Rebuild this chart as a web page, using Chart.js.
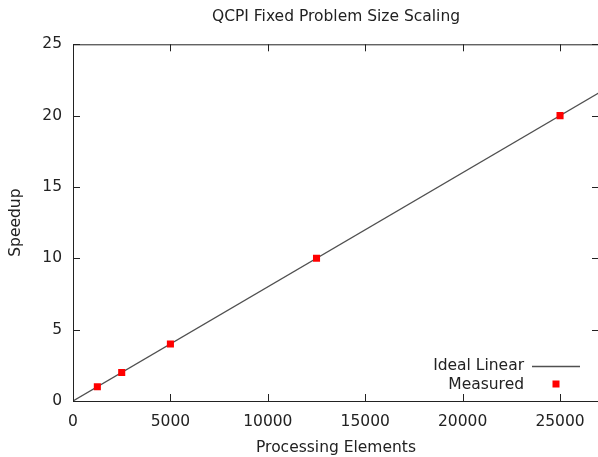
<!DOCTYPE html>
<html lang="en">
<head>
    <meta charset="UTF-8">
    <title>QCPI Fixed Problem Size Scaling</title>
    <script src="https://cdn.jsdelivr.net/npm/chart.js"></script>
    <style>
        body { margin: 0; background: white; overflow: hidden; }
        .wrap { width: 598px; height: 457px; overflow: hidden; }
    </style>
</head>
<body>
    <div class="wrap">
        <canvas id="scalingChart" width="604" height="457"></canvas>
    </div>

    <script>
        // measured speedups per processing element count
        const measuredPE = [1250, 2500, 5000, 12500, 25000];
        const measuredSpeedup = [1, 2, 4, 10, 20];

        // ideal linear reference, end points
        const idealPE = [0, 27000];
        const idealSpeedup = [0, 21.6];

        const xTicks = [0, 5000, 10000, 15000, 20000, 25000];
        const yTicks = [0, 5, 10, 15, 20, 25];

        const textColor = "#222";
        const frameColor = "#222";
        const fontSize = 15.5;

        Chart.defaults.font.family = "'DejaVu Sans', sans-serif";
        Chart.defaults.font.size = fontSize;
        Chart.defaults.color = textColor;

        // frame on all four sides with inward tics, gnuplot style
        const frameTics = {
            id: "frameTics",
            afterDatasetsDraw(chart) {
                const { ctx, chartArea: a, scales } = chart;
                const len = 7;
                ctx.save();
                ctx.strokeStyle = frameColor;
                ctx.lineWidth = 1;
                ctx.strokeRect(a.left + 0.5, a.top + 0.5, a.right - a.left, a.bottom - a.top);
                ctx.beginPath();
                xTicks.forEach(v => {
                    const x = Math.round(scales.x.getPixelForValue(v)) + 0.5;
                    ctx.moveTo(x, a.bottom); ctx.lineTo(x, a.bottom - len);
                    ctx.moveTo(x, a.top); ctx.lineTo(x, a.top + len);
                });
                yTicks.forEach(v => {
                    const y = Math.round(scales.y.getPixelForValue(v)) + 0.5;
                    ctx.moveTo(a.left, y); ctx.lineTo(a.left + len, y);
                    ctx.moveTo(a.right, y); ctx.lineTo(a.right - len, y);
                });
                ctx.stroke();
                ctx.restore();
            }
        };

        // key in the lower right corner: label text, then sample
        const cornerKey = {
            id: "cornerKey",
            afterDraw(chart) {
                const { ctx, chartArea: a } = chart;
                const ideal = chart.data.datasets[1];
                const measured = chart.data.datasets[0];
                const textRight = a.right - 75;
                const sampleX = a.right - 43;
                const row1 = a.bottom - 35.5;
                const row2 = a.bottom - 16.5;
                ctx.save();
                ctx.font = fontSize + "px 'DejaVu Sans', sans-serif";
                ctx.fillStyle = textColor;
                ctx.textAlign = "right";
                ctx.textBaseline = "middle";
                ctx.fillText(ideal.label, textRight, row1);
                ctx.fillText(measured.label, textRight, row2);

                ctx.strokeStyle = ideal.borderColor;
                ctx.lineWidth = ideal.borderWidth;
                ctx.beginPath();
                ctx.moveTo(sampleX - 24, Math.round(row1) + 0.5);
                ctx.lineTo(sampleX + 24, Math.round(row1) + 0.5);
                ctx.stroke();

                ctx.fillStyle = measured.backgroundColor;
                ctx.fillRect(sampleX - 3.5, row2 - 4, 7, 7);
                ctx.restore();
            }
        };

        const ctx = document.getElementById("scalingChart").getContext("2d");
        new Chart(ctx, {
            type: "scatter",
            data: {
                datasets: [
                    {
                        label: "Measured",
                        data: measuredPE.map((x, i) => ({ x: x, y: measuredSpeedup[i] })),
                        pointStyle: "rect",
                        pointRadius: 5,
                        pointBorderWidth: 0,
                        backgroundColor: "#ff0000",
                        borderColor: "#ff0000"
                    },
                    {
                        label: "Ideal Linear",
                        data: idealPE.map((x, i) => ({ x: x, y: idealSpeedup[i] })),
                        showLine: true,
                        pointRadius: 0,
                        borderWidth: 1.3,
                        borderColor: "#505050",
                        backgroundColor: "#505050"
                    }
                ]
            },
            options: {
                responsive: false,
                animation: false,
                layout: { padding: { top: 0, right: 3.3, bottom: 0, left: 0 } },
                plugins: {
                    legend: { display: false },
                    tooltip: { enabled: false },
                    title: {
                        display: true,
                        fullSize: false,
                        text: "QCPI Fixed Problem Size Scaling",
                        color: textColor,
                        font: { size: fontSize, weight: "normal" },
                        padding: { top: 7.5, bottom: 18.2 }
                    }
                },
                scales: {
                    x: {
                        type: "linear",
                        min: 0,
                        max: 27000,
                        afterBuildTicks: s => { s.ticks = xTicks.map(v => ({ value: v })); },
                        afterFit: s => { s.height = 56; },
                        grid: { display: false, drawTicks: false },
                        border: { display: false },
                        ticks: { padding: 12, color: textColor, maxRotation: 0, callback: v => String(v) },
                        title: {
                            display: true,
                            text: "Processing Elements",
                            color: textColor,
                            font: { size: fontSize },
                            padding: { top: 0, bottom: 0 }
                        }
                    },
                    y: {
                        type: "linear",
                        min: 0,
                        max: 25,
                        afterBuildTicks: s => { s.ticks = yTicks.map(v => ({ value: v })); },
                        afterFit: s => { s.width = 73; },
                        grid: { display: false, drawTicks: false },
                        border: { display: false },
                        ticks: { padding: 11, color: textColor, callback: v => String(v) },
                        title: {
                            display: true,
                            text: "Speedup",
                            color: textColor,
                            font: { size: fontSize },
                            padding: { top: 6.5, bottom: 0 }
                        }
                    }
                }
            },
            plugins: [frameTics, cornerKey]
        });
    </script>
</body>
</html>
